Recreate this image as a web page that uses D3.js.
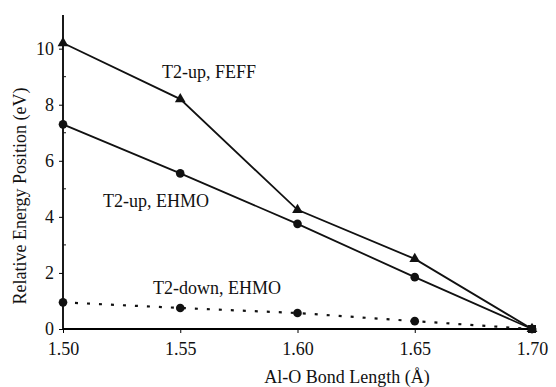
<!DOCTYPE html>
<html>
<head>
<meta charset="utf-8">
<script src="https://cdn.jsdelivr.net/npm/d3@7"></script>
<style>
  body { margin: 0; background: #fff; }
  svg text { font-family: "Liberation Serif", "Times New Roman", "DejaVu Serif", serif; fill: #111; }
</style>
</head>
<body>
<div id="chart"></div>
<script>
const bondLengths = [1.50, 1.55, 1.60, 1.65, 1.70];
const feffUp = [10.2, 8.2, 4.25, 2.5, 0];
const ehmoUp = [7.3, 5.55, 3.75, 1.85, 0];
const ehmoDown = [0.95, 0.75, 0.57, 0.28, 0];
const xTicks = [1.50, 1.55, 1.60, 1.65, 1.70];
const yTicks = [0, 2, 4, 6, 8, 10];

const serif = '"Liberation Serif", "Times New Roman", serif';
const W = 556, H = 387;
const margin = { top: 15, right: 24, bottom: 58, left: 63 };
const width = W - margin.left - margin.right;
const height = H - margin.top - margin.bottom;

const svg = d3.select('#chart').append('svg')
  .attr('width', W)
  .attr('height', H);

const g = svg.append('g')
  .attr('transform', `translate(${margin.left}, ${margin.top})`);

// scales
const x = d3.scaleLinear().domain([1.50, 1.70]).range([0, 469]);
const y = d3.scaleLinear().domain([0, 11.2]).range([height, 0]);

// x axis
const xAxis = g.append('g')
  .attr('font-family', serif)
  .attr('transform', `translate(0, ${height})`)
  .call(d3.axisBottom(x).tickValues(xTicks).tickFormat(d3.format('.2f')).tickSize(4).tickPadding(9));
xAxis.select('.domain').attr('d', `M0,0H${x(1.70)}`).attr('stroke-width', 1.8);
xAxis.selectAll('text').attr('font-size', 18).attr('fill', '#111');

// y axis
const yAxis = g.append('g')
  .attr('font-family', serif)
  .call(d3.axisLeft(y).tickValues(yTicks).tickSize(4).tickPadding(5));
yAxis.select('.domain').attr('d', `M0,${height}V0`).attr('stroke-width', 1.8);
yAxis.selectAll('text').attr('font-size', 18).attr('fill', '#111');

// minor y ticks
g.append('g').selectAll('line')
  .data(d3.range(1, 11, 2))
  .join('line')
  .attr('x1', 0).attr('x2', 3)
  .attr('y1', d => y(d)).attr('y2', d => y(d))
  .attr('stroke', '#111');

const line = d3.line()
  .x((d, i) => x(bondLengths[i]))
  .y(d => y(d));

// series lines
g.append('path').datum(feffUp)
  .attr('d', line).attr('fill', 'none').attr('stroke', '#111').attr('stroke-width', 1.8);
g.append('path').datum(ehmoUp)
  .attr('d', line).attr('fill', 'none').attr('stroke', '#111').attr('stroke-width', 1.8);
g.append('path').datum(ehmoDown)
  .attr('d', line).attr('fill', 'none').attr('stroke', '#111').attr('stroke-width', 2.2)
  .attr('stroke-dasharray', '3,9');

// markers
g.selectAll('path.tri')
  .data(feffUp)
  .join('path')
  .attr('class', 'tri')
  .attr('d', d3.symbol(d3.symbolTriangle, 50))
  .attr('transform', (d, i) => `translate(${x(bondLengths[i])}, ${y(d)})`)
  .attr('fill', '#111');

g.selectAll('circle.up')
  .data(ehmoUp)
  .join('circle')
  .attr('class', 'up')
  .attr('cx', (d, i) => x(bondLengths[i]))
  .attr('cy', d => y(d))
  .attr('r', 4.3)
  .attr('fill', '#111');

g.selectAll('circle.down')
  .data(ehmoDown)
  .join('circle')
  .attr('class', 'down')
  .attr('cx', (d, i) => x(bondLengths[i]))
  .attr('cy', d => y(d))
  .attr('r', 4.3)
  .attr('fill', '#111');

// end point square
g.append('rect')
  .attr('x', x(1.70) - 4).attr('y', y(0) - 4)
  .attr('width', 8).attr('height', 8)
  .attr('fill', '#111');

// series labels
svg.append('text').attr('x', 162).attr('y', 78).attr('font-size', 18).text('T2-up, FEFF');
svg.append('text').attr('x', 103).attr('y', 207).attr('font-size', 18).text('T2-up, EHMO');
svg.append('text').attr('x', 153).attr('y', 294).attr('font-size', 18).text('T2-down, EHMO');

// axis titles
svg.append('text')
  .attr('x', 347).attr('y', 383)
  .attr('text-anchor', 'middle')
  .attr('font-size', 18)
  .text('Al-O Bond Length (Å)');

svg.append('text')
  .attr('transform', 'rotate(-90)')
  .attr('x', -196).attr('y', 26)
  .attr('text-anchor', 'middle')
  .attr('font-size', 18)
  .text('Relative Energy Position (eV)');
</script>
</body>
</html>
